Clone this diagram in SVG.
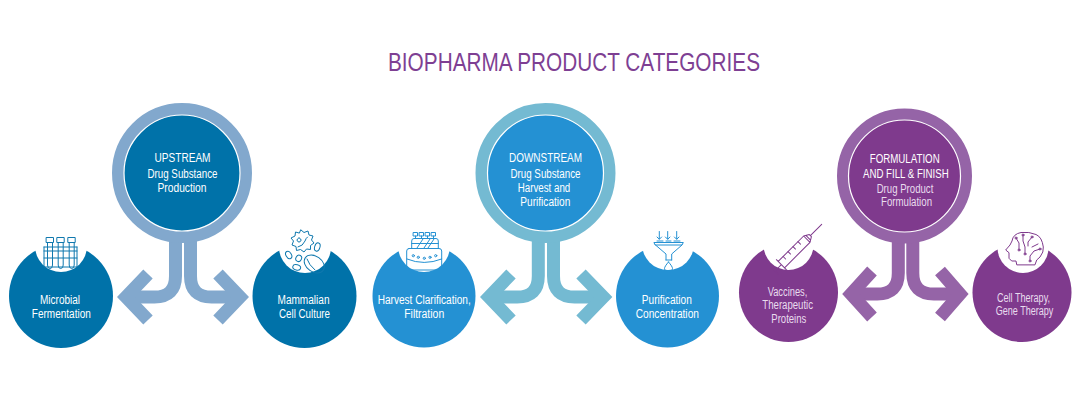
<svg xmlns="http://www.w3.org/2000/svg" width="1080" height="400" viewBox="0 0 1080 400">
<style>
text{font-family:"Liberation Sans",Arial,sans-serif;font-size:12.500px;fill:#fff;text-anchor:middle}
.title{font-size:26px;fill:#7e3f93}
.dim{fill:#e9dcee}
.cut{fill:#fff}
.ln{fill:none;stroke-width:1;stroke-linecap:round;stroke-linejoin:round}
.a{fill:none;stroke-width:13;stroke-linejoin:miter}
.ring{fill:none;stroke-width:13}
.in{stroke:#fff;stroke-width:1.2}
.b1{fill:#0072a9}.b2{fill:#2491d3}.b3{fill:#7f3a8d}
.r1{stroke:#82a8cd}.r2{stroke:#74bad2}.r3{stroke:#9564a7}
.i1{stroke:#0f78ae}.i2{stroke:#2491d3}.i3{stroke:#7f3a8d}
</style>
<rect width="1080" height="400" fill="#fff"/>
<text id="title" class="title" x="574" y="71" textLength="372" lengthAdjust="spacingAndGlyphs">BIOPHARMA PRODUCT CATEGORIES</text>
<g id="connectors">
<path class="a r1" d="M175.500 238V276Q175.500 297 154.500 297H128"/>
<path class="a r1" d="M148 274L126 297L148 320"/>
<path class="a r1" d="M190.500 238V276Q190.500 297 211.500 297H238"/>
<path class="a r1" d="M218 274L240 297L218 320"/>
<path class="a r2" d="M538.300 238V276Q538.300 297 517.300 297H491"/>
<path class="a r2" d="M511 274L489 297L511 320"/>
<path class="a r2" d="M553.500 238V276Q553.500 297 574.500 297H601"/>
<path class="a r2" d="M581 274L603.300 297L581 320"/>
<path class="a r3" d="M898.300 240V273Q898.300 294 877.300 294H853"/>
<path class="a r3" d="M872 271L851 294L872 317"/>
<path class="a r3" d="M912.800 240V273Q912.800 294 933.800 294H958"/>
<path class="a r3" d="M940 271L960 294L940 317"/>
</g>
<g id="upstream">
<circle class="ring r1" cx="182" cy="173" r="63.500"/>
<circle class="b1 in" cx="182" cy="173" r="58"/>
<text x="182.500" y="162" textLength="56" lengthAdjust="spacingAndGlyphs">UPSTREAM</text>
<text x="182.500" y="178" textLength="70" lengthAdjust="spacingAndGlyphs">Drug Substance</text>
<text x="182" y="191.500" textLength="49" lengthAdjust="spacingAndGlyphs">Production</text>
</g>
<g id="microbial">
<circle class="b1" cx="61" cy="296" r="52"/>
<circle class="cut" cx="61" cy="246" r="26"/>
<g class="ln i1">
<path d="M44 247H77M44 247V267H77V247M44 251H77M44 258H77"/>
<path d="M47.500 242.500V265Q47.500 268.500 50 268.500Q52.500 268.500 52.500 265V242.500M58.200 242.500V265Q58.200 268.500 60.700 268.500Q63.200 268.500 63.200 265V242.500M69.200 242.500V265Q69.200 268.500 71.700 268.500Q74.200 268.500 74.200 265V242.500"/>
<rect x="46.500" y="237.500" width="7" height="5"/><rect x="57.200" y="237.500" width="7" height="5"/><rect x="68.200" y="237.500" width="7" height="5"/>
</g>
<text x="60" y="303.800" textLength="40" lengthAdjust="spacingAndGlyphs">Microbial</text>
<text x="61.300" y="318" textLength="59" lengthAdjust="spacingAndGlyphs">Fermentation</text>
</g>
<g id="mammalian">
<circle class="b1" cx="304.500" cy="296" r="52"/>
<circle class="cut" cx="305" cy="247" r="26"/>
<g class="ln i1">
<path d="M301 230L304 232.500L308 231L309 235L313 236L311.500 240L314 243L310.500 245.500L310.500 249.500L306.500 249L304 252L300.500 249.500L296.500 250.500L296 246.500L292 245L293.500 241L291 238L295 236L295.500 232L299 233Z"/>
<path d="M298 247Q303 246 305 241Q306 238 307.500 237M299 238a2 2 0 1 0 .1 0"/>
<ellipse cx="317.300" cy="247" rx="2.600" ry="4.300" transform="rotate(18 317.300 247)"/>
<ellipse cx="288.700" cy="255" rx="2.700" ry="4" transform="rotate(-30 288.700 255)"/>
<ellipse cx="298.700" cy="258.300" rx="2.800" ry="3.300" transform="rotate(30 298.700 258.300)"/>
<ellipse cx="296.700" cy="267.300" rx="4" ry="2.700" transform="rotate(15 296.700 267.300)"/>
<ellipse cx="314.300" cy="264" rx="11" ry="7.800" transform="rotate(35 314.300 264)"/>
<path d="M307 259Q309 265 315 270"/>
</g>
<text x="303.500" y="304" textLength="52" lengthAdjust="spacingAndGlyphs">Mammalian</text>
<text x="304.500" y="318" textLength="51" lengthAdjust="spacingAndGlyphs">Cell Culture</text>
</g>
<g id="downstream">
<circle class="ring r2" cx="545.500" cy="173" r="63.500"/>
<circle class="b2 in" cx="545.500" cy="173" r="58"/>
<text x="545.500" y="162" textLength="73" lengthAdjust="spacingAndGlyphs">DOWNSTREAM</text>
<text x="545.500" y="178" textLength="70" lengthAdjust="spacingAndGlyphs">Drug Substance</text>
<text x="544" y="191.500" textLength="52.600" lengthAdjust="spacingAndGlyphs">Harvest and</text>
<text x="545.300" y="205.500" textLength="50" lengthAdjust="spacingAndGlyphs">Purification</text>
</g>
<g id="harvest">
<circle class="b2" cx="424" cy="296" r="51.500"/>
<circle class="cut" cx="424" cy="246" r="26"/>
<g class="ln i2">
<path d="M409 248.500H439Q441.700 248.500 441.700 251V266Q441.700 270 438 270H411Q406.700 270 406.700 266V251Q406.700 248.500 409 248.500Z"/>
<path d="M411.700 248.500V241Q411.700 238.500 414 238.500H436Q438.300 238.500 438.300 241V248.500M411.700 243.500H438.300"/>
<path d="M417 248L423 239M424 248L430 239M428 248L434 239"/>
<rect x="413.500" y="232.500" width="4" height="3.500"/><rect x="419.500" y="232.500" width="4" height="3.500"/><rect x="425.500" y="232.500" width="4" height="3.500"/><rect x="431.500" y="232.500" width="4" height="3.500"/>
<path d="M415.500 236V238.500M421.500 236V238.500M427.500 236V238.500M433.500 236V238.500"/>
<circle cx="413.300" cy="255.700" r="1.100"/><circle cx="418.300" cy="257.300" r="1.100"/><circle cx="424.300" cy="258.300" r="1.100"/><circle cx="430" cy="257.300" r="1.100"/><circle cx="435.700" cy="255.700" r="1.100"/>
<path d="M407 259Q424 266 441.700 259"/>
</g>
<text x="424.200" y="303.800" textLength="93" lengthAdjust="spacingAndGlyphs">Harvest Clarification,</text>
<text x="424.200" y="318" textLength="40" lengthAdjust="spacingAndGlyphs">Filtration</text>
</g>
<g id="purification">
<circle class="b2" cx="667.500" cy="296" r="51.500"/>
<circle class="cut" cx="668" cy="244" r="26"/>
<g class="ln i2">
<path d="M659.300 231.500V239M657 237L659.300 239.300L661.600 237M667.700 231.500V239M665.400 237L667.700 239.300L670 237M676.700 231.500V239M674.400 237L676.700 239.300L679 237"/>
<path d="M657 241H663M666 241H671M674 241H680"/>
<path d="M654.300 242.500H683.300L682 245H655.500ZM655.500 245L666 254V260M682 245L671.700 254V260M666 260H671.700"/>
<path d="M668.500 262Q672.500 266.500 672.500 268.500A4 4 0 0 1 664.500 268.500Q664.500 266.500 668.500 262Z"/>
</g>
<text x="666.800" y="303.800" textLength="50" lengthAdjust="spacingAndGlyphs">Purification</text>
<text x="667.300" y="318" textLength="63.300" lengthAdjust="spacingAndGlyphs">Concentration</text>
</g>
<g id="formulation">
<circle class="ring r3" cx="904.500" cy="176" r="61"/>
<circle class="b3 in" cx="904.500" cy="176" r="56"/>
<text x="904.700" y="162.800" textLength="70" lengthAdjust="spacingAndGlyphs">FORMULATION</text>
<text x="905.800" y="178" textLength="85.700" lengthAdjust="spacingAndGlyphs">AND FILL &amp; FINISH</text>
<text class="dim" x="905" y="192.500" textLength="56.700" lengthAdjust="spacingAndGlyphs">Drug Product</text>
<text class="dim" x="906.500" y="206" textLength="51" lengthAdjust="spacingAndGlyphs">Formulation</text>
</g>
<g id="vaccines">
<circle class="b3" cx="788.500" cy="292.500" r="49.500"/>
<circle class="cut" cx="788.500" cy="245" r="25"/>
<g class="ln i3" transform="translate(775 271) rotate(-45)">
<path d="M0 -5V5M0 0H9M9 -7V7M9 -4.500H45V4.500H9M45 -4.500L50 -1.500V1.500L45 4.500M50 0H66M47 -3V3"/>
<path d="M16 -4.500V-1M23 -4.500V-1M30 -4.500V-1M37 -4.500V-1"/>
</g>
<text class="dim" x="787.500" y="296" textLength="39.700" lengthAdjust="spacingAndGlyphs">Vaccines,</text>
<text class="dim" x="787.700" y="309.300" textLength="50.700" lengthAdjust="spacingAndGlyphs">Therapeutic</text>
<text class="dim" x="788.800" y="322.600" textLength="35" lengthAdjust="spacingAndGlyphs">Proteins</text>
</g>
<g id="therapy">
<circle class="b3" cx="1022" cy="292.500" r="49.500"/>
<circle class="cut" cx="1023" cy="247.500" r="25.500"/>
<g class="ln i3">
<path d="M1035 264.500Q1036 259 1040 257Q1044 252 1043.300 247Q1042 237 1036 234.500Q1029 231.500 1021 232.500Q1013 234 1012 241L1010 245L1005.700 250L1009 252.700V258.300L1011.700 261H1016L1016.700 264.500Z"/>
<path d="M1023 235V241L1025 247V254M1016 238L1019 243V250M1032 237L1028 242V246M1040 249L1034 251L1030 256V261M1038 244L1032 247"/>
<circle cx="1023" cy="235" r="1"/><circle cx="1016" cy="238" r="1"/><circle cx="1032" cy="237" r="1"/><circle cx="1040" cy="249" r="1"/><circle cx="1025" cy="254" r="1"/><circle cx="1030" cy="261" r="1"/><circle cx="1019" cy="250" r="1"/>
</g>
<text class="dim" x="1023.500" y="301.500" textLength="53" lengthAdjust="spacingAndGlyphs">Cell Therapy,</text>
<text class="dim" x="1024.500" y="315.200" textLength="57.700" lengthAdjust="spacingAndGlyphs">Gene Therapy</text>
</g>
</svg>
